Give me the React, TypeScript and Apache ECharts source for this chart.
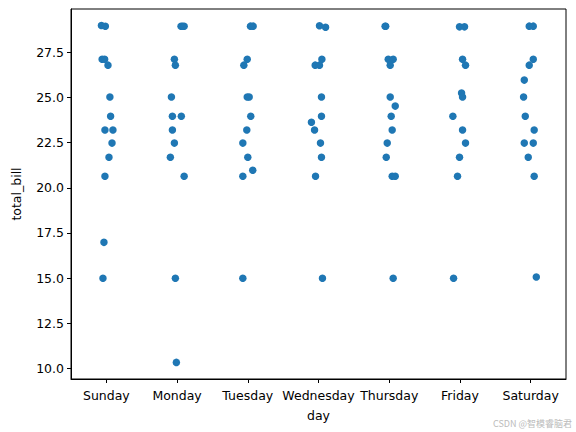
import React, { useEffect, useRef } from "react";
import * as echarts from "echarts";

const days = ["Sunday", "Monday", "Tuesday", "Wednesday", "Thursday", "Friday", "Saturday"];

const sundayBills = [29.0, 28.95, 27.13, 27.13, 26.8, 25.03, 23.97, 23.21, 23.21, 22.48, 21.7, 20.64, 16.98, 14.99];
const sundayJitter = [-0.07, -0.014, -0.06, -0.024, 0.023, 0.05, 0.06, -0.02, 0.093, 0.08, 0.037, -0.02, -0.034, -0.048];

const mondayBills = [28.95, 28.95, 28.95, 27.13, 26.8, 25.03, 23.97, 23.97, 23.21, 22.48, 21.7, 20.64, 14.99, 10.33];
const mondayJitter = [0.056, 0.078, 0.1, -0.038, -0.024, -0.08, -0.066, 0.06, -0.066, -0.038, -0.095, 0.1, -0.024, -0.01];

const tuesdayBills = [28.96, 28.96, 27.13, 26.8, 25.03, 25.03, 23.97, 23.21, 22.48, 21.7, 20.98, 20.64, 14.99];
const tuesdayJitter = [0.038, 0.076, -0.008, -0.056, -0.008, 0.02, 0.042, -0.014, -0.07, 0.0, 0.07, -0.07, -0.07];

const wednesdayBills = [28.98, 28.9, 27.13, 26.8, 26.8, 25.03, 23.97, 23.64, 23.21, 22.48, 21.7, 20.64, 14.99];
const wednesdayJitter = [0.014, 0.1, 0.048, -0.047, 0.014, 0.042, 0.042, -0.1, -0.056, 0.028, 0.042, -0.042, 0.056];

const thursdayBills = [28.95, 28.95, 27.13, 27.13, 26.8, 25.03, 24.53, 23.97, 23.21, 22.48, 21.7, 20.64, 20.64, 14.99];
const thursdayJitter = [-0.058, -0.05, -0.014, 0.056, 0.014, 0.014, 0.085, 0.028, 0.042, -0.028, -0.042, 0.042, 0.085, 0.056];

const fridayBills = [28.92, 28.92, 27.13, 26.8, 25.25, 25.03, 23.97, 23.21, 22.48, 21.7, 20.64, 14.99];
const fridayJitter = [-0.006, 0.065, 0.037, 0.079, 0.023, 0.037, -0.1, 0.037, 0.079, -0.006, -0.034, -0.09];

const saturdayBills = [28.96, 28.96, 27.13, 26.8, 25.97, 25.03, 23.97, 23.21, 22.48, 22.48, 21.7, 20.64, 15.06];
const saturdayJitter = [-0.02, 0.037, 0.037, -0.02, -0.09, -0.1, -0.076, 0.05, -0.09, 0.037, -0.034, 0.05, 0.08];

const yTicks = [10, 12.5, 15, 17.5, 20, 22.5, 25, 27.5];

const billsByDay = [sundayBills, mondayBills, tuesdayBills, wednesdayBills, thursdayBills, fridayBills, saturdayBills];
const jitterByDay = [sundayJitter, mondayJitter, tuesdayJitter, wednesdayJitter, thursdayJitter, fridayJitter, saturdayJitter];

export default function App() {
  const ref = useRef<HTMLDivElement>(null);
  useEffect(() => {
    if (!ref.current) return;
    const chart = echarts.init(ref.current, null, { renderer: "svg" });
    const data: number[][] = [];
    billsByDay.forEach((bills, d) => {
      bills.forEach((b, i) => data.push([d + jitterByDay[d][i], b]));
    });
    const font = "DejaVu Sans";
    chart.setOption({
      animation: false,
      textStyle: { fontFamily: font },
      grid: {
        left: 71,
        right: 10,
        top: 9,
        bottom: 53,
        show: true,
        borderColor: "#000",
        borderWidth: 1,
        backgroundColor: "transparent",
      },
      xAxis: [
        {
          type: "category",
          data: days,
          boundaryGap: true,
          name: "day",
          nameLocation: "middle",
          nameGap: 30,
          nameTextStyle: { fontSize: 12.5, color: "#000", fontFamily: font },
          axisLine: { show: true, onZero: false, lineStyle: { color: "#000", width: 1 } },
          axisTick: { show: true, alignWithLabel: true, length: 4, lineStyle: { color: "#000" } },
          axisLabel: { color: "#000", fontSize: 12.5, fontFamily: font, margin: 10, interval: 0 },
          splitLine: { show: false },
        },
        {
          type: "value",
          min: -0.5,
          max: 6.5,
          show: false,
          axisLine: { show: false, onZero: false },
          splitLine: { show: false },
        },
      ],
      yAxis: {
        type: "value",
        min: 9.41,
        max: 29.91,
        name: "total_bill",
        nameLocation: "middle",
        nameGap: 48,
        nameTextStyle: { fontSize: 12.5, color: "#000", fontFamily: font },
        axisLine: { show: true, onZero: false, lineStyle: { color: "#000", width: 1 } },
        axisTick: { show: true, length: 4, lineStyle: { color: "#000" }, customValues: yTicks },
        axisLabel: {
          color: "#000",
          fontSize: 12.5,
          fontFamily: font,
          margin: 7,
          customValues: yTicks,
          formatter: (v: number) => v.toFixed(1),
        },
        splitLine: { show: false },
      },
      series: [
        {
          type: "scatter",
          xAxisIndex: 1,
          data,
          symbolSize: 7.5,
          itemStyle: { color: "#1f77b4", opacity: 1 },
        },
      ],
      graphic: [
        {
          type: "text",
          right: 4,
          bottom: 4,
          style: { text: "CSDN @智模睿脑君", fill: "#bbbbbb", fontSize: 9, fontFamily: "Noto Sans CJK SC" },
        },
      ],
    });
    return () => chart.dispose();
  }, []);
  return <div ref={ref} style={{ width: 576, height: 432, position: "absolute", left: 0, top: 0 }} />;
}
